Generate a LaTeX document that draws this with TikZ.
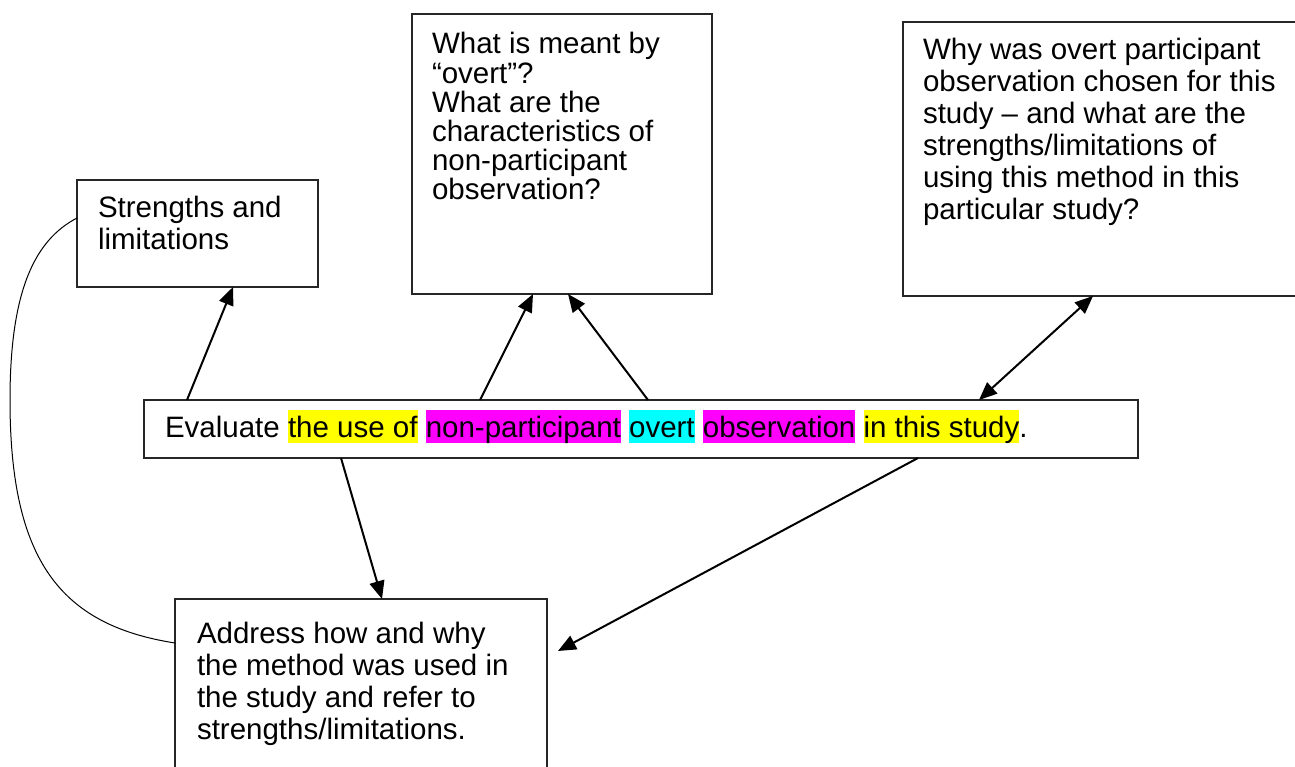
\documentclass[tikz,border=0pt]{standalone}
\usepackage{fontspec}
\setmainfont{Liberation Sans}
\usetikzlibrary{arrows.meta}
\definecolor{hlyellow}{HTML}{FFFF00}
\definecolor{hlmagenta}{HTML}{FF00FF}
\definecolor{hlcyan}{HTML}{00FFFF}
\newcommand\hlword[2]{{\setlength{\fboxsep}{0pt}\colorbox{#1}{\rule[-0.212em]{0pt}{1.117em}#2}}}
\begin{document}
\begin{tikzpicture}[x=1pt,y=-1pt,
  box/.style={draw=black!85, line width=1.3pt, inner sep=0pt, outer sep=0pt, anchor=north west},
  txt/.style={inner sep=0pt, outer sep=0pt, anchor=north west, align=left, font=\fontsize{29.5}{32}\selectfont},
  tighttxt/.style={txt, font=\fontsize{29.5}{29}\selectfont},
  arr/.style={line width=2pt, -{Triangle[length=18pt,width=15pt]}},
  darr/.style={line width=2pt, {Triangle[length=18pt,width=15pt]}-{Triangle[length=18pt,width=15pt]}},
  link/.style={line width=1pt}]
\useasboundingbox (0,0) rectangle (1295,767);
\fill[white] (0,0) rectangle (1295,767);

% boxes
\node[box, minimum width=241pt, minimum height=107pt] (strbox) at (77,180) {};
\node[box, minimum width=300pt, minimum height=280pt] (midbox) at (412,14) {};
\node[box, minimum width=410pt, minimum height=274pt] (whybox) at (903,22) {};
\node[box, minimum width=994pt, minimum height=58pt] (evalbox) at (144,400) {};
\node[box, minimum width=372pt, minimum height=200pt] (addrbox) at (175,599) {};

% texts
\node[txt] (strtext) at (98,{218-22.4}) {\strut Strengths and\\limitations};
\node[tighttxt] (midtext) at (432,{52-20.3}) {\strut What is meant by\\“overt”?\\What are the\\characteristics of\\non-participant\\observation?};
\node[txt] (whytext) at (923,{60-22.4}) {\strut Why was overt participant\\observation chosen for this\\study – and what are the\\strengths/limitations of\\using this method in this\\particular study?};
\node[txt, anchor=base west] (evaltext) at (165,437) {Evaluate \hlword{hlyellow}{the use of} \hlword{hlmagenta}{non-participant} \hlword{hlcyan}{overt} \hlword{hlmagenta}{observation} \hlword{hlyellow}{in this study}.};
\node[txt] (addrtext) at (197,{643-22.4}) {\strut Address how and why\\the method was used in\\the study and refer to\\strengths/limitations.};

% connectors
\coordinate (addrtip) at (558,651);
\draw[arr] (evalbox.north -| 187,0) -- (strbox.south -| 233,0);
\draw[arr] (evalbox.north -| 480,0) -- (midbox.south -| 533,0);
\draw[arr] (evalbox.north -| 648,0) -- (midbox.south -| 568,0);
\draw[darr] (evalbox.north -| 979,0) -- (whybox.south -| 1093,0);
\draw[arr] (evalbox.south -| 341,0) -- (addrbox.north -| 382,0);
\draw[arr] (evalbox.south -| 918,0) -- (addrtip);
\draw[link] (strbox.west |- 0,218) .. controls (35,240) and (10,290) .. (10,400)
  .. controls (10,560) and (60,625) .. (addrbox.west |- 0,643);
\end{tikzpicture}
\end{document}
